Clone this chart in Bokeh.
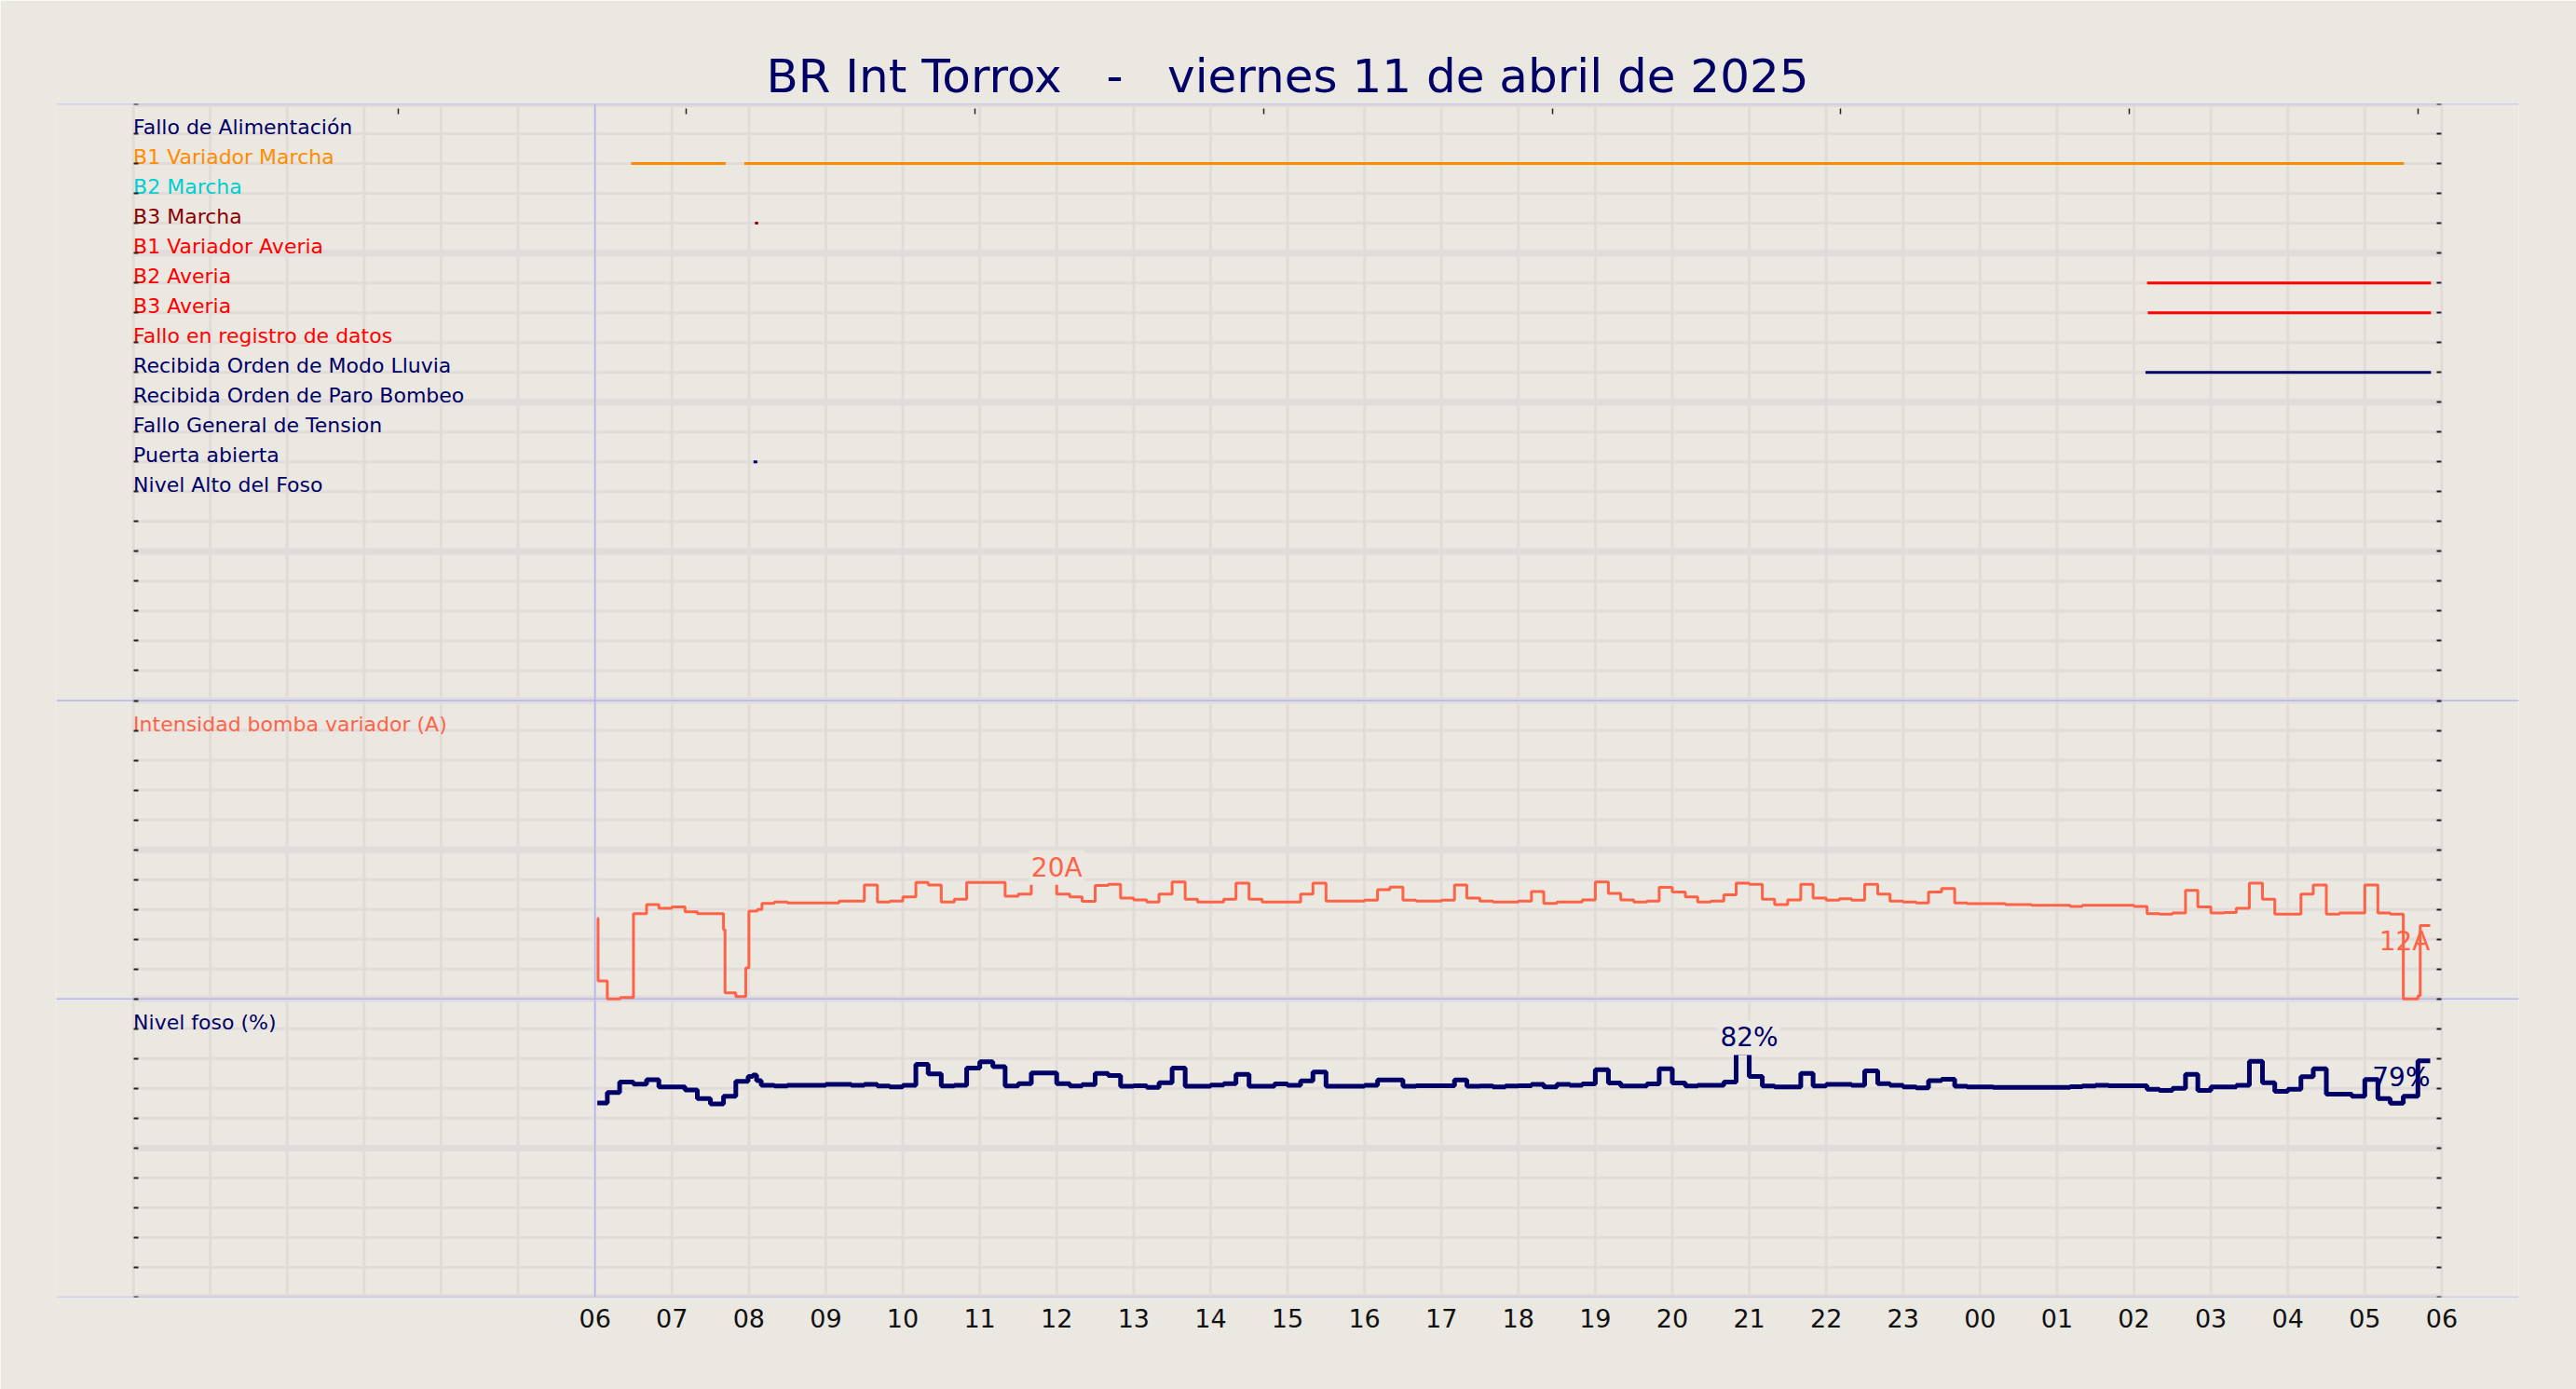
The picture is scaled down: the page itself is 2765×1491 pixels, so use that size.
import numpy as np
from bokeh.plotting import figure
from bokeh.models import Range1d, LinearAxis, FixedTicker, Label, Span
from bokeh.embed import file_html
from bokeh.resources import INLINE
from bokeh.core.properties import value

# ---------------- data ----------------
NB = "\u00a0"
TITLE = "BR Int Torrox" + NB * 3 + "-" + NB * 3 + "viernes 11 de abril de 2025"

event_names = [
    "Fallo de Alimentación", "B1 Variador Marcha", "B2 Marcha", "B3 Marcha",
    "B1 Variador Averia", "B2 Averia", "B3 Averia", "Fallo en registro de datos",
    "Recibida Orden de Modo Lluvia", "Recibida Orden de Paro Bombeo",
    "Fallo General de Tension", "Puerta abierta", "Nivel Alto del Foso",
]
event_colors = [
    "#000066", "#ff8c00", "#00ced1", "#8b0000", "#ff0000", "#ff0000", "#ff0000",
    "#ff0000", "#000066", "#000066", "#000066", "#000066", "#000066",
]
# active intervals (hours since 00:00 of the previous day)
ev_row = [1, 1, 3, 5, 6, 8, 11]
ev_start = [6.47, 7.94, 8.08, 26.17, 26.18, 26.15, 8.06]
ev_end = [7.70, 29.51, 8.12, 29.86, 29.86, 29.86, 8.11]

panel_names = ["Intensidad bomba variador (A)", "Nivel foso (%)"]

amp_t = [6.03, 6.04, 6.16, 6.33, 6.50, 6.67, 6.83, 7.00, 7.17, 7.33, 7.67, 7.69, 7.83,
         7.96, 8.00, 8.11, 8.17, 8.33, 8.50, 9.17, 9.50, 9.67, 9.83, 10.00, 10.17,
         10.33, 10.50, 10.67, 10.83, 11.33, 11.50, 11.67, 12.00, 12.17, 12.33, 12.50,
         12.67, 12.83, 13.00, 13.17, 13.33, 13.50, 13.67, 13.83, 14.17, 14.33, 14.50,
         14.67, 15.17, 15.33, 15.50, 16.00, 16.17, 16.33, 16.50, 16.67, 17.00, 17.17,
         17.33, 17.50, 17.67, 18.00, 18.17, 18.33, 18.50, 18.83, 19.00, 19.17, 19.33,
         19.50, 19.67, 19.83, 20.00, 20.17, 20.33, 20.50, 20.67, 20.83, 21.00, 21.17,
         21.33, 21.50, 21.67, 21.83, 22.00, 22.17, 22.33, 22.50, 22.67, 22.83, 23.00,
         23.17, 23.33, 23.50, 23.67, 23.83, 24.33, 24.67, 25.17, 25.33, 26.00, 26.17,
         26.33, 26.50, 26.67, 26.83, 27.00, 27.17, 27.33, 27.50, 27.67, 27.83, 28.17,
         28.33, 28.50, 28.67, 29.00, 29.17, 29.33, 29.50, 29.69, 29.72, 29.85]
amp_v = [13.5, 3.0, 0.0, 0.25, 14.3, 15.8, 15.2, 15.4, 14.6, 14.3, 11.6, 1.0, 0.4,
         5.2, 14.7, 15.0, 16.0, 16.25, 16.1, 16.4, 19.1, 16.25, 16.4, 17.1, 19.5,
         19.1, 16.25, 16.7, 19.5, 17.2, 17.55, 20.0, 17.55, 17.1, 16.35, 19.0,
         19.2, 16.9, 16.6, 16.25, 17.55, 19.6, 16.7, 16.25, 16.7, 19.4, 16.7,
         16.25, 17.55, 19.4, 16.4, 16.55, 18.3, 18.75, 16.55, 16.4, 16.55, 19.1,
         16.9, 16.4, 16.25, 16.4, 18.0, 16.0, 16.25, 16.6, 19.6, 17.7, 16.6,
         16.25, 16.4, 18.7, 17.9, 17.1, 16.25, 16.4, 17.45, 19.4, 19.2, 16.7,
         15.8, 16.6, 19.2, 16.9, 16.55, 16.8, 16.55, 19.2, 17.55, 16.4, 16.25,
         16.1, 17.9, 18.5, 16.1, 15.95, 15.8, 15.7, 15.5, 15.7, 15.5, 14.3,
         14.2, 14.4, 18.2, 15.4, 14.4, 14.5, 15.2, 19.4, 16.7, 14.2, 17.55,
         19.1, 14.2, 14.4, 19.1, 14.4, 14.2, 0.0, 0.5, 12.3, 12.3]

pct_t = [6.03, 6.16, 6.32, 6.50, 6.67, 6.83, 7.17, 7.33, 7.50, 7.67, 7.83, 7.99, 8.05,
         8.10, 8.16, 8.33, 8.50, 9.00, 9.33, 9.50, 9.67, 9.83, 10.00, 10.17, 10.33,
         10.50, 10.67, 10.83, 11.00, 11.17, 11.33, 11.50, 11.67, 12.00, 12.17, 12.33,
         12.50, 12.67, 12.83, 13.00, 13.17, 13.33, 13.50, 13.67, 14.00, 14.17, 14.33,
         14.50, 14.83, 15.00, 15.17, 15.33, 15.50, 16.00, 16.17, 16.50, 16.67, 17.17,
         17.33, 17.50, 17.67, 17.83, 18.00, 18.17, 18.33, 18.50, 18.67, 18.83, 19.00,
         19.17, 19.33, 19.67, 19.83, 20.00, 20.17, 20.33, 20.67, 20.83, 21.00, 21.17,
         21.33, 21.67, 21.83, 22.00, 22.33, 22.50, 22.67, 22.83, 23.00, 23.17, 23.33,
         23.50, 23.67, 23.83, 24.17, 25.17, 25.33, 25.50, 25.67, 26.17, 26.33, 26.50,
         26.67, 26.83, 27.00, 27.33, 27.50, 27.67, 27.83, 28.00, 28.17, 28.33, 28.50,
         28.83, 29.00, 29.17, 29.33, 29.50, 29.69, 29.85]
pct_v = [65.1, 68.6, 72.1, 71.4, 72.9, 70.5, 69.5, 66.6, 64.8, 67.4, 72.4, 74.0, 74.5,
         72.6, 71.0, 70.8, 71.0, 71.35, 71.0, 71.35, 70.8, 70.5, 71.0, 78.1, 74.9,
         70.8, 71.0, 76.8, 78.9, 77.3, 70.8, 71.6, 75.2, 71.6, 70.8, 71.25,
         75.0, 74.3, 70.7, 70.9, 70.3, 71.9, 76.8, 70.7, 71.1, 71.6, 74.7,
         70.7, 71.5, 71.0, 72.5, 75.5, 70.7, 71.0, 72.8, 70.7, 70.9, 72.8,
         70.7, 70.8, 70.5, 70.8, 70.9, 71.35, 70.5, 71.35, 71.0, 71.5, 76.25,
         71.8, 70.8, 71.5, 76.6, 71.8, 70.8, 71.0, 72.1, 82.0, 74.0, 70.8,
         70.5, 75.0, 70.8, 71.35, 71.0, 75.9, 71.6, 71.0, 70.5, 70.2, 72.6,
         73.1, 70.7, 70.5, 70.3, 70.6, 70.8, 71.0, 70.9, 69.7, 69.3, 70.0,
         74.7, 69.3, 70.5, 71.0, 79.1, 71.9, 69.0, 69.7, 73.9, 76.6, 68.1,
         67.4, 73.0, 66.6, 65.0, 67.4, 79.2, 79.2]

hour_ticks = list(range(6, 31))
hour_labels = ["06", "07", "08", "09", "10", "11", "12", "13", "14", "15", "16", "17",
               "18", "19", "20", "21", "22", "23", "00", "01", "02", "03", "04", "05", "06"]
top_ticks = [3.44, 7.19, 10.94, 14.69, 18.44, 22.19, 25.94, 29.69]

# ---------------- style ----------------
BG = "#ebe7e1"
GRID = "#e1dcda"
BLUE = "#b4b4f4"
NAVY = "#000066"
TOMATO = "#ff6347"
FONT = "DejaVu Sans"

p = figure(width=2765, height=1491, output_backend="svg", toolbar_location=None,
           x_range=Range1d(-1, 31), y_range=Range1d(0, 40), y_axis_location=None,
           min_border_left=60, min_border_right=62, min_border_top=111,
           min_border_bottom=99, background_fill_color=BG, border_fill_color=BG,
           outline_line_color=None)
p.extra_y_ranges = {"amp": Range1d(-50, 150), "pct": Range1d(0, 400)}
p.grid.visible = False

# title
p.title.text = TITLE
p.title.align = "center"
p.title.text_font = FONT
p.title.text_font_size = "50px"
p.title.text_font_style = "normal"
p.title.text_color = NAVY
p.title.standoff = 2

# bottom hour axis
xa = p.xaxis[0]
xa.ticker = FixedTicker(ticks=hour_ticks)
xa.major_label_overrides = {t: lab for t, lab in zip(hour_ticks, hour_labels)}
xa.major_tick_in = 0
xa.major_tick_out = 0
xa.minor_tick_in = 0
xa.minor_tick_out = 0
xa.axis_line_color = None
xa.major_label_text_font = FONT
xa.major_label_text_font_size = "27px"
xa.major_label_text_color = "#111111"
xa.major_label_standoff = 12

# grid (drawn within 0..30 h only)
rows = list(range(41))
hours = list(range(31))
thin = [r for r in rows if r % 5]
thick = [r for r in rows if r % 5 == 0]
p.segment(x0=hours, y0=0, x1=hours, y1=40, line_color=GRID, line_width=3, level="image")
p.segment(x0=0, y0=thin, x1=30, y1=thin, line_color=GRID, line_width=3, level="image")
p.segment(x0=0, y0=thick, x1=30, y1=thick, line_color=GRID, line_width=7, level="image")

# separators
for r in (0, 10, 20, 40):
    p.add_layout(Span(location=r, dimension="width", line_color=BLUE, line_width=1.5,
                      level="underlay"))
p.add_layout(Span(location=hour_ticks[0], dimension="height", line_color=BLUE,
                  line_width=1.5, level="underlay"))

# tick-only axes
for side, loc in (("left", 0), ("right", 30)):
    ax = LinearAxis(fixed_location=loc, ticker=FixedTicker(ticks=rows),
                    axis_line_color=None, major_tick_in=5, major_tick_out=0,
                    minor_tick_in=0, minor_tick_out=0, major_tick_line_color="#222222",
                    major_tick_line_width=2, major_label_text_color=None)
    p.add_layout(ax, side)
ta = LinearAxis(fixed_location=39.84, ticker=FixedTicker(ticks=top_ticks),
                axis_line_color=None, major_tick_in=6, major_tick_out=0,
                minor_tick_in=0, minor_tick_out=0, major_tick_line_color="#222222",
                major_tick_line_width=1.5, major_label_text_color=None)
p.add_layout(ta, "above")

# events panel
label_y = [39 - i for i in range(len(event_names))]
p.text(x=0, y=label_y, text=event_names, text_color=event_colors,
       text_font=value(FONT), text_font_size="22px", text_baseline="alphabetic",
       text_align="left", y_offset=-7)
ev_y = [39 - r for r in ev_row]
ev_col = [event_colors[r] for r in ev_row]
p.segment(x0=ev_start, y0=ev_y, x1=ev_end, y1=ev_y, line_color=ev_col, line_width=3,
          line_cap="butt")

# panel titles
p.text(x=[0], y=[45], text=[panel_names[0]], y_range_name="amp", text_color=TOMATO,
       text_font=value(FONT), text_font_size="22px", text_baseline="alphabetic",
       y_offset=-7)
p.text(x=[0], y=[90], text=[panel_names[1]], y_range_name="pct", text_color=NAVY,
       text_font=value(FONT), text_font_size="22px", text_baseline="alphabetic",
       y_offset=-7)

# series
p.step(amp_t, amp_v, mode="after", y_range_name="amp", line_color=TOMATO, line_width=3)
p.step(pct_t, pct_v, mode="after", y_range_name="pct", line_color=NAVY, line_width=5)

# annotations
ia = int(np.argmax(amp_v))
ip = int(np.argmax(pct_v))
for (xx, yy, txt, rng, col, dy) in (
        (amp_t[ia + 1], amp_v[ia], f"{amp_v[ia]:.0f}A", "amp", TOMATO, 13),
        (pct_t[ip + 1], pct_v[ip], f"{pct_v[ip]:.0f}%", "pct", NAVY, 16)):
    p.add_layout(Label(x=xx, y=yy, text=txt, y_range_name=rng, text_align="center",
                       text_baseline="alphabetic", y_offset=dy, text_color=col,
                       text_font=FONT, text_font_size="28px",
                       background_fill_color=BG, padding=2))
for (xx, yy, txt, rng, col) in (
        (amp_t[-1], amp_v[-1], f"{amp_v[-1]:.0f}A", "amp", TOMATO),
        (pct_t[-1], pct_v[-1], f"{pct_v[-1]:.0f}%", "pct", NAVY)):
    p.add_layout(Label(x=xx, y=yy, text=txt, y_range_name=rng, text_align="right",
                       text_baseline="top", y_offset=-1, text_color=col,
                       text_font=FONT, text_font_size="28px"))

html = file_html(p, INLINE, title="BR Int Torrox")
html = html.replace("<body>", '<body style="background-color:%s;">' % BG, 1)
open("out.html", "w").write(html)
